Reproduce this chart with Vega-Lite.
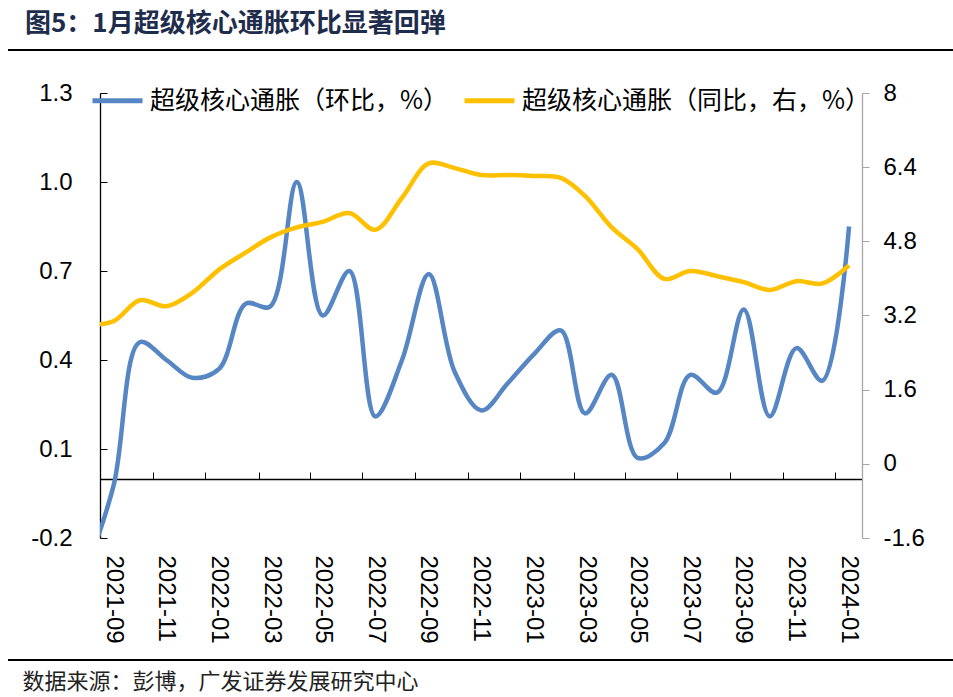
{
  "$schema": "https://vega.github.io/schema/vega-lite/v6.json",
  "width": 762,
  "height": 445,
  "autosize": {"type": "none"},
  "padding": {"left": 100, "top": 93, "right": 91, "bottom": 159},
  "background": "white",
  "config": {"view": {"stroke": null}, "axis": {"grid": false}},
  "title": {
    "text": "图5：1月超级核心通胀环比显著回弹",
    "anchor": "start",
    "frame": "group",
    "font": "Noto Sans CJK SC",
    "fontSize": 26,
    "fontWeight": "bold",
    "color": "#1F2D4D",
    "dx": -75,
    "offset": 12
  },
  "data": {
    "values": [
      {"month": "2021-08-01", "mom": -0.30, "yoy": 3.00},
      {"month": "2021-09-01", "mom": -0.02, "yoy": 3.08},
      {"month": "2021-10-01", "mom": 0.46, "yoy": 3.53},
      {"month": "2021-11-01", "mom": 0.40, "yoy": 3.40},
      {"month": "2021-12-01", "mom": 0.34, "yoy": 3.69},
      {"month": "2022-01-01", "mom": 0.37, "yoy": 4.19},
      {"month": "2022-02-01", "mom": 0.59, "yoy": 4.56},
      {"month": "2022-03-01", "mom": 0.58, "yoy": 4.88},
      {"month": "2022-04-01", "mom": 1.00, "yoy": 5.10},
      {"month": "2022-05-01", "mom": 0.55, "yoy": 5.22},
      {"month": "2022-06-01", "mom": 0.70, "yoy": 5.41},
      {"month": "2022-07-01", "mom": 0.21, "yoy": 5.05},
      {"month": "2022-08-01", "mom": 0.40, "yoy": 5.74},
      {"month": "2022-09-01", "mom": 0.69, "yoy": 6.48},
      {"month": "2022-10-01", "mom": 0.36, "yoy": 6.38},
      {"month": "2022-11-01", "mom": 0.23, "yoy": 6.23},
      {"month": "2022-12-01", "mom": 0.32, "yoy": 6.23},
      {"month": "2023-01-01", "mom": 0.42, "yoy": 6.21},
      {"month": "2023-02-01", "mom": 0.50, "yoy": 6.17},
      {"month": "2023-03-01", "mom": 0.22, "yoy": 5.78},
      {"month": "2023-04-01", "mom": 0.35, "yoy": 5.10},
      {"month": "2023-05-01", "mom": 0.07, "yoy": 4.63},
      {"month": "2023-06-01", "mom": 0.12, "yoy": 3.99},
      {"month": "2023-07-01", "mom": 0.35, "yoy": 4.16},
      {"month": "2023-08-01", "mom": 0.29, "yoy": 4.05},
      {"month": "2023-09-01", "mom": 0.57, "yoy": 3.92},
      {"month": "2023-10-01", "mom": 0.21, "yoy": 3.75},
      {"month": "2023-11-01", "mom": 0.44, "yoy": 3.94},
      {"month": "2023-12-01", "mom": 0.33, "yoy": 3.89},
      {"month": "2024-01-01", "mom": 0.85, "yoy": 4.28}
    ]
  },
  "encoding": {
    "x": {
      "field": "month",
      "type": "temporal",
      "scale": {
        "domain": [
          {"year": 2021, "month": 8, "date": 16, "utc": true},
          {"year": 2024, "month": 1, "date": 16, "utc": true}
        ]
      },
      "axis": {
        "values": [
          {"year": 2021, "month": 8, "date": 16, "utc": true},
          {"year": 2021, "month": 10, "date": 16, "utc": true},
          {"year": 2021, "month": 12, "date": 16, "utc": true},
          {"year": 2022, "month": 2, "date": 16, "utc": true},
          {"year": 2022, "month": 4, "date": 16, "utc": true},
          {"year": 2022, "month": 6, "date": 16, "utc": true},
          {"year": 2022, "month": 8, "date": 16, "utc": true},
          {"year": 2022, "month": 10, "date": 16, "utc": true},
          {"year": 2022, "month": 12, "date": 16, "utc": true},
          {"year": 2023, "month": 2, "date": 16, "utc": true},
          {"year": 2023, "month": 4, "date": 16, "utc": true},
          {"year": 2023, "month": 6, "date": 16, "utc": true},
          {"year": 2023, "month": 8, "date": 16, "utc": true},
          {"year": 2023, "month": 10, "date": 16, "utc": true},
          {"year": 2023, "month": 12, "date": 16, "utc": true}
        ],
        "labelExpr": "utcFormat(datum.value + 20 * 86400000, '%Y-%m')",
        "labelAngle": 90,
        "labelAlign": "left",
        "labelBaseline": "middle",
        "labelOffset": 13,
        "labelFlush": false,
        "labelOverlap": false,
        "labelPadding": 83,
        "labelFont": "Liberation Sans",
        "labelFontSize": 24,
        "labelColor": "#000",
        "offset": -59,
        "tickSize": -7,
        "tickColor": "#000",
        "domainColor": "#000",
        "domainWidth": 1.3,
        "title": "数据来源：彭博，广发证券发展研究中心",
        "titleX": -78,
        "titleY": 202,
        "titleAngle": 0,
        "titleAlign": "left",
        "titleAnchor": "start",
        "titleBaseline": "middle",
        "titleFont": "Noto Sans CJK SC",
        "titleFontSize": 22,
        "titleFontWeight": "normal",
        "titleColor": "#222"
      }
    }
  },
  "layer": [
    {
      "layer": [
        {
          "mark": {"type": "line", "interpolate": "catmull-rom", "strokeWidth": 4.5, "clip": true},
          "encoding": {
            "y": {
              "field": "mom",
              "type": "quantitative",
              "scale": {"domain": [-0.2, 1.3], "nice": false, "zero": false},
              "axis": {
                "orient": "left",
                "values": [-0.2, 0.1, 0.4, 0.7, 1.0, 1.3],
                "labelExpr": "datum.value < 0 ? '-' + format(-datum.value, '.1f') : format(datum.value, '.1f')",
                "title": null,
                "domainColor": "#000",
                "domainWidth": 1.3,
                "tickColor": "#000",
                "tickSize": -7,
                "labelPadding": 35,
                "labelFont": "Liberation Sans",
                "labelFontSize": 24,
                "labelColor": "#000"
              }
            },
            "color": {
              "datum": "超级核心通胀（环比，%）",
              "type": "nominal",
              "scale": {
                "domain": ["超级核心通胀（环比，%）", "超级核心通胀（同比，右，%）"],
                "range": ["#5686C4", "#FFC000"]
              },
              "legend": {
                "orient": "none",
                "legendX": -10,
                "legendY": -20,
                "direction": "horizontal",
                "title": null,
                "symbolType": "stroke",
                "symbolStrokeWidth": 5,
                "symbolSize": 2500,
                "labelFont": "Noto Sans CJK SC",
                "labelFontSize": 25,
                "labelColor": "#000",
                "labelLimit": 600,
                "labelOffset": 5,
                "columnPadding": 5,
                "padding": 0
              }
            }
          }
        },
        {
          "mark": {"type": "rule", "color": "#000", "strokeWidth": 2},
          "encoding": {
            "x": {"datum": {"year": 2021, "month": 5, "date": 2, "utc": true}, "type": "temporal"},
            "x2": {"datum": {"year": 2024, "month": 5, "date": 5, "utc": true}},
            "y": {"datum": 1.445, "type": "quantitative"}
          }
        },
        {
          "mark": {"type": "rule", "color": "#000", "strokeWidth": 2},
          "encoding": {
            "x": {"datum": {"year": 2021, "month": 5, "date": 2, "utc": true}, "type": "temporal"},
            "x2": {"datum": {"year": 2024, "month": 5, "date": 5, "utc": true}},
            "y": {"datum": -0.611, "type": "quantitative"}
          }
        }
      ]
    },
    {
      "mark": {"type": "line", "interpolate": "catmull-rom", "strokeWidth": 4.5, "clip": true},
      "encoding": {
        "y": {
          "field": "yoy",
          "type": "quantitative",
          "scale": {"domain": [-1.6, 8], "nice": false, "zero": false},
          "axis": {
            "orient": "right",
            "values": [-1.6, 0, 1.6, 3.2, 4.8, 6.4, 8],
            "labelExpr": "datum.value < 0 ? '-' + format(-datum.value, '.1~f') : format(datum.value, '.1~f')",
            "title": null,
            "domainColor": "#A6A6A6",
            "domainWidth": 1.3,
            "tickColor": "#A6A6A6",
            "tickSize": 7,
            "labelPadding": 14,
            "labelFont": "Liberation Sans",
            "labelFontSize": 24,
            "labelColor": "#000"
          }
        },
        "color": {"datum": "超级核心通胀（同比，右，%）", "type": "nominal"}
      }
    }
  ],
  "resolve": {"scale": {"y": "independent"}}
}
